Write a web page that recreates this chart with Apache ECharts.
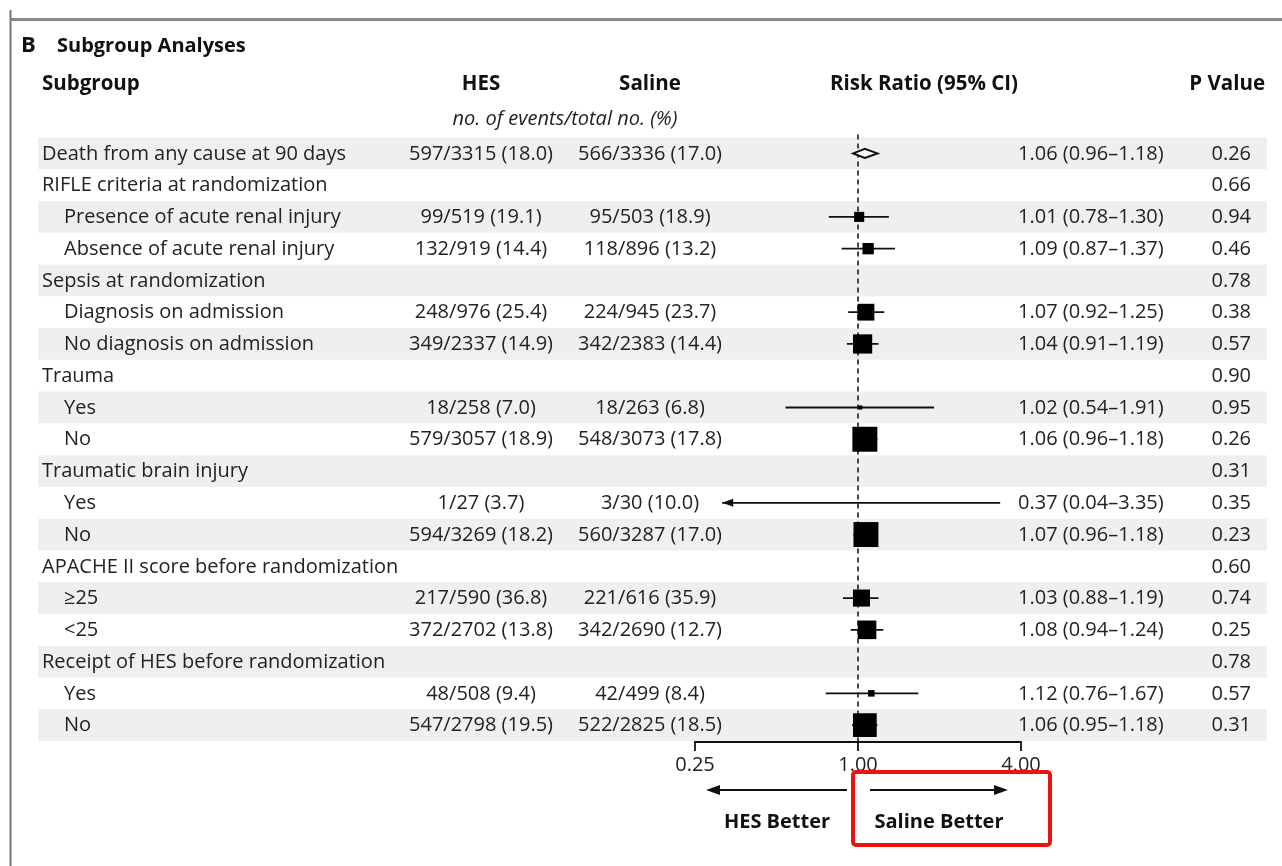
<!DOCTYPE html>
<html>
<head>
<meta charset="utf-8">
<script src="https://cdn.jsdelivr.net/npm/echarts@6/dist/echarts.min.js"></script>
<style>
  html, body { margin: 0; padding: 0; background: #fff; }
  #chart { width: 1282px; height: 866px; }
</style>
</head>
<body>
<div id="chart"></div>
<script>
// Subgroup analyses: risk ratios for death at 90 days, HES vs saline
const subgroups = [
  'Death from any cause at 90 days',
  'RIFLE criteria at randomization',
  'Presence of acute renal injury',
  'Absence of acute renal injury',
  'Sepsis at randomization',
  'Diagnosis on admission',
  'No diagnosis on admission',
  'Trauma',
  'Yes',
  'No',
  'Traumatic brain injury',
  'Yes',
  'No',
  'APACHE II score before randomization',
  '\u226525',
  '<25',
  'Receipt of HES before randomization',
  'Yes',
  'No'
];
const indented = [0, 0, 1, 1, 0, 1, 1, 0, 1, 1, 0, 1, 1, 0, 1, 1, 0, 1, 1];
const hesEvents = ['597/3315 (18.0)', '', '99/519 (19.1)', '132/919 (14.4)', '', '248/976 (25.4)', '349/2337 (14.9)', '',
  '18/258 (7.0)', '579/3057 (18.9)', '', '1/27 (3.7)', '594/3269 (18.2)', '', '217/590 (36.8)', '372/2702 (13.8)', '',
  '48/508 (9.4)', '547/2798 (19.5)'];
const salineEvents = ['566/3336 (17.0)', '', '95/503 (18.9)', '118/896 (13.2)', '', '224/945 (23.7)', '342/2383 (14.4)', '',
  '18/263 (6.8)', '548/3073 (17.8)', '', '3/30 (10.0)', '560/3287 (17.0)', '', '221/616 (35.9)', '342/2690 (12.7)', '',
  '42/499 (8.4)', '522/2825 (18.5)'];
const riskRatio = [1.06, null, 1.01, 1.09, null, 1.07, 1.04, null, 1.02, 1.06, null, 0.37, 1.07, null, 1.03, 1.08, null, 1.12, 1.06];
const ciLow     = [0.96, null, 0.78, 0.87, null, 0.92, 0.91, null, 0.54, 0.96, null, 0.04, 0.96, null, 0.88, 0.94, null, 0.76, 0.95];
const ciHigh    = [1.18, null, 1.30, 1.37, null, 1.25, 1.19, null, 1.91, 1.18, null, 3.35, 1.18, null, 1.19, 1.24, null, 1.67, 1.18];
const pValues = ['0.26', '0.66', '0.94', '0.46', '0.78', '0.38', '0.57', '0.90', '0.95', '0.26', '0.31', '0.35', '0.23',
  '0.60', '0.74', '0.25', '0.78', '0.57', '0.31'];
const axisTicks = [0.25, 1, 4];

// drawing constants
const FONT = '"Open Sans", "Noto Sans", sans-serif';
const TXT = '#222';
const STRIPE = '#efefef';
const CLIP_LOW = 0.315;     // intervals below this are cut and drawn with an arrow
const BOX_K = 5.15;         // square side ~ 1 / log width of the interval (inverse-variance weight)

const rowIdx = subgroups.map((_, i) => i);
const fmt = v => v.toFixed(2);

const markerData = [];
riskRatio.forEach((r, i) => {
  if (r != null) markerData.push([i, r, ciLow[i], ciHigh[i]]);
});

function bandOf(api) {
  return api.coord([1, 1])[1] - api.coord([1, 0])[1];
}
function bottomOf(api) {
  return api.coord([1, subgroups.length - 1])[1] + bandOf(api) / 2;
}

const chart = echarts.init(document.getElementById('chart'), null, { renderer: 'canvas' });

const option = {
  animation: false,
  backgroundColor: '#fff',
  grid: { left: 695, right: 261, top: 137.5, bottom: 125, containLabel: false },
  xAxis: {
    type: 'log',
    logBase: 2,
    min: 0.25,
    max: 4,
    interval: 2,
    splitLine: { show: false },
    axisLine: { show: false },
    axisTick: { show: false },
    minorTick: { show: false },
    axisLabel: { show: true, margin: 14, color: TXT, fontSize: 20, fontFamily: FONT,
      formatter: v => fmt(v), customValues: axisTicks }
  },
  yAxis: {
    type: 'category',
    data: rowIdx,
    inverse: true,
    show: false
  },
  series: [
    // alternating row shading across the whole table
    {
      type: 'custom',
      z: 1,
      clip: false,
      silent: true,
      data: rowIdx.map(i => [1, i]),
      encode: { x: 0, y: 1 },
      renderItem: (params, api) => {
        const i = api.value(1);
        if (i % 2 !== 0) return null;
        const band = bandOf(api);
        const cy = api.coord([1, i])[1];
        return {
          type: 'rect',
          shape: { x: 38, y: cy - band / 2, width: 1267 - 38, height: band },
          style: { fill: STRIPE }
        };
      }
    },
    // dashed line of no effect at RR = 1
    {
      type: 'custom',
      z: 2,
      clip: false,
      silent: true,
      data: [[1, 0]],
      encode: { x: 0, y: 1 },
      renderItem: (params, api) => {
        const band = bandOf(api);
        const x = api.coord([1, 0])[0];
        const y0 = api.coord([1, 0])[1] - band / 2 - 3;
        return {
          type: 'line',
          shape: { x1: x, y1: y0, x2: x, y2: bottomOf(api) },
          style: { stroke: '#333', lineWidth: 1.8, lineDash: [5, 4] }
        };
      }
    },
    // risk-ratio axis line with downward ticks
    {
      type: 'custom',
      z: 5,
      clip: false,
      silent: true,
      data: axisTicks.map(v => [v, 0]),
      encode: { x: 0, y: 1 },
      renderItem: (params, api) => {
        const y = bottomOf(api) + 1;
        const x = api.coord([api.value(0), 0])[0];
        const kids = [{
          type: 'line',
          shape: { x1: x, y1: y, x2: x, y2: y + 9 },
          style: { stroke: '#111', lineWidth: 1.8 }
        }];
        if (params.dataIndex === 0) {
          const xEnd = api.coord([axisTicks[axisTicks.length - 1], 0])[0];
          kids.push({
            type: 'line',
            shape: { x1: x - 0.9, y1: y, x2: xEnd + 0.9, y2: y },
            style: { stroke: '#111', lineWidth: 1.8 }
          });
        }
        return { type: 'group', children: kids };
      }
    },
    // confidence intervals, weighted squares and the overall diamond
    {
      type: 'custom',
      z: 3,
      clip: false,
      silent: true,
      data: markerData,
      encode: { x: [1, 2, 3], y: 0 },
      renderItem: (params, api) => {
        const i = api.value(0);
        const r = api.value(1), lo = api.value(2), hi = api.value(3);
        const loDraw = Math.max(lo, CLIP_LOW);
        const pc = api.coord([r, i]);
        const pl = api.coord([loDraw, i]);
        const ph = api.coord([hi, i]);
        const cy = pc[1];
        const children = [];
        if (i === 0) {
          const h = 4.5;
          children.push({
            type: 'polygon',
            shape: { points: [[pl[0], cy], [pc[0], cy - h], [ph[0], cy], [pc[0], cy + h]] },
            style: { fill: '#fff', stroke: '#111', lineWidth: 2 }
          });
          return { type: 'group', children };
        }
        children.push({
          type: 'line',
          shape: { x1: pl[0], y1: cy, x2: ph[0], y2: cy },
          style: { stroke: '#111', lineWidth: 1.8 }
        });
        if (lo < CLIP_LOW) {
          children.push({
            type: 'polygon',
            shape: { points: [[pl[0], cy], [pl[0] + 11, cy - 4], [pl[0] + 11, cy + 4]] },
            style: { fill: '#111' }
          });
        }
        const side = BOX_K / Math.log(hi / lo);
        children.push({
          type: 'rect',
          shape: { x: pc[0] - side / 2, y: cy - side / 2, width: side, height: side },
          style: { fill: '#000' }
        });
        return { type: 'group', children };
      }
    },
    // table text for each row
    {
      type: 'custom',
      z: 4,
      clip: false,
      silent: true,
      data: rowIdx.map(i => [1, i]),
      encode: { x: 0, y: 1 },
      renderItem: (params, api) => {
        const i = api.value(1);
        const cy = api.coord([1, i])[1] + 0.5;
        const font = '20px ' + FONT;
        const t = (x, text, align) => ({
          type: 'text',
          style: { x, y: cy, text, font, fill: TXT, align, verticalAlign: 'middle' }
        });
        const kids = [t(indented[i] ? 64 : 42, subgroups[i], 'left')];
        if (hesEvents[i]) kids.push(t(481, hesEvents[i], 'center'));
        if (salineEvents[i]) kids.push(t(650, salineEvents[i], 'center'));
        if (riskRatio[i] != null) {
          kids.push(t(1018, fmt(riskRatio[i]) + ' (' + fmt(ciLow[i]) + '\u2013' + fmt(ciHigh[i]) + ')', 'left'));
        }
        kids.push(t(1251, pValues[i], 'right'));
        return { type: 'group', children: kids };
      }
    }
  ],
  graphic: [
    // panel frame
    { type: 'line', shape: { x1: 10, y1: 19.5, x2: 1282, y2: 19.5 }, style: { stroke: '#888', lineWidth: 3 }, z: 10 },
    { type: 'line', shape: { x1: 10.5, y1: 10, x2: 10.5, y2: 866 }, style: { stroke: '#777', lineWidth: 2 }, z: 10 },
    // titles and column headers
    { type: 'text', style: { x: 21, y: 46, text: 'B', font: 'bold 22px ' + FONT, fill: '#111', verticalAlign: 'middle' } },
    { type: 'text', style: { x: 57, y: 46, text: 'Subgroup Analyses', font: 'bold 20px ' + FONT, fill: '#111', verticalAlign: 'middle' } },
    { type: 'text', style: { x: 42, y: 84, text: 'Subgroup', font: 'bold 20.5px ' + FONT, fill: '#111', verticalAlign: 'middle' } },
    { type: 'text', style: { x: 481, y: 84, text: 'HES', font: 'bold 20.5px ' + FONT, fill: '#111', align: 'center', verticalAlign: 'middle' } },
    { type: 'text', style: { x: 650, y: 84, text: 'Saline', font: 'bold 20.5px ' + FONT, fill: '#111', align: 'center', verticalAlign: 'middle' } },
    { type: 'text', style: { x: 924, y: 84, text: 'Risk Ratio (95% CI)', font: 'bold 20.5px ' + FONT, fill: '#111', align: 'center', verticalAlign: 'middle' } },
    { type: 'text', style: { x: 1265, y: 84, text: 'P Value', font: 'bold 20.5px ' + FONT, fill: '#111', align: 'right', verticalAlign: 'middle' } },
    { type: 'text', style: { x: 565, y: 119, text: 'no. of events/total no. (%)', font: 'italic 20px ' + FONT, fill: TXT, align: 'center', verticalAlign: 'middle' } },
    // direction arrows under the axis
    { type: 'line', shape: { x1: 847, y1: 790, x2: 716, y2: 790 }, style: { stroke: '#111', lineWidth: 1.8 } },
    { type: 'polygon', shape: { points: [[706, 790], [720, 785], [720, 795]] }, style: { fill: '#111' } },
    { type: 'line', shape: { x1: 870, y1: 790, x2: 997, y2: 790 }, style: { stroke: '#111', lineWidth: 1.8 } },
    { type: 'polygon', shape: { points: [[1008, 790], [994, 785], [994, 795]] }, style: { fill: '#111' } },
    { type: 'text', style: { x: 777, y: 822, text: 'HES Better', font: 'bold 20px ' + FONT, fill: '#111', align: 'center', verticalAlign: 'middle' } },
    { type: 'text', style: { x: 939, y: 822, text: 'Saline Better', font: 'bold 20px ' + FONT, fill: '#111', align: 'center', verticalAlign: 'middle' } },
    // highlight box
    { type: 'rect', shape: { x: 853, y: 772, width: 197, height: 73, r: 3 }, style: { fill: 'none', stroke: '#ee1111', lineWidth: 4 }, z: 10 }
  ]
};

chart.setOption(option);
</script>
</body>
</html>
